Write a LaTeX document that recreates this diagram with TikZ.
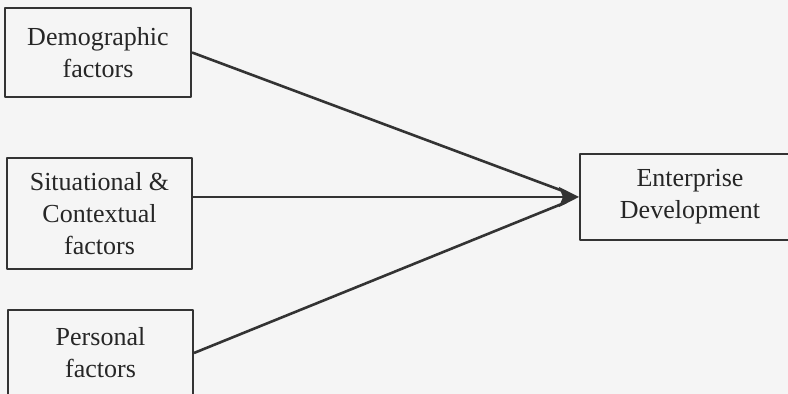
\documentclass[tikz,border=0pt]{standalone}
\usepackage{fontspec}
\setmainfont{Liberation Serif}
\usetikzlibrary{arrows.meta}
\begin{document}
\begin{tikzpicture}[x=5pt, y=5pt, line join=round, >={Stealth[length=10pt,width=10pt,inset=2pt]},
	box/.style={draw=black!80, line width=1pt, align=center, inner sep=0pt, text=black!85,
		font=\fontsize{13}{16}\selectfont},
	link/.style={line width=1.3pt, draw=black!80}]
	% Hintergrund (Scan)
	\fill[black!4] (0,0) rectangle (78.8,39.4);
	\clip (0,0) rectangle (78.8,39.4);
	% Kästen
	\node[box, minimum width=93pt, minimum height=44.5pt] (demo) at (9.8,34.15) {Demographic\\factors};
	\node[box, minimum width=92.5pt, minimum height=55.5pt] (situ) at (9.95,18.05) {Situational \&\\Contextual\\factors};
	\node[box, minimum width=92.5pt, minimum height=43pt] (pers) at (10.05,4.1) {Personal\\factors};
	\node[box, minimum width=110pt, minimum height=43pt] (ent) at (69,19.7) {Enterprise\\Development};
	% Pfeile (eine gemeinsame Spitze)
	\draw[link, shorten >=7pt] (demo.east) -- (ent.west);
	\draw[link, shorten >=7pt] (pers.east) -- (ent.west);
	\draw[link, ->] (ent.west -| situ.east) -- (ent.west);
\end{tikzpicture}
\end{document}
